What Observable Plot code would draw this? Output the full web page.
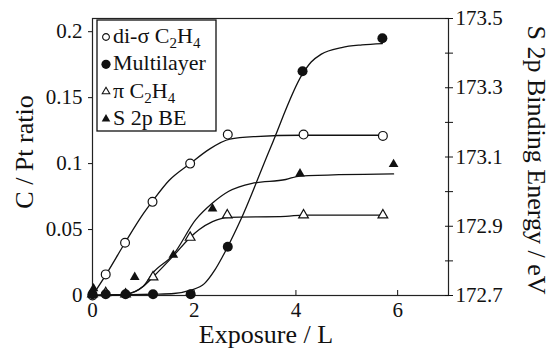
<!DOCTYPE html>
<html><head><meta charset="utf-8">
<script src="https://cdn.jsdelivr.net/npm/d3@7"></script>
<script src="https://cdn.jsdelivr.net/npm/@observablehq/plot@0.6"></script>
<style>
body{margin:0;background:#fff;}
#chart{width:550px;height:349px;}
</style></head><body><div id="chart"></div>
<script>
// ---- data ----
// di-sigma C2H4 (open circles), left axis
const diSigmaX = [0, 0.26, 0.64, 1.18, 1.92, 2.66, 4.15, 5.71];
const diSigmaY = [0, 0.016, 0.040, 0.071, 0.100, 0.122, 0.122, 0.121];
// Multilayer (filled circles), left axis
const multiX = [0, 0.26, 0.65, 1.19, 1.93, 2.66, 4.13, 5.70];
const multiY = [0.001, 0.001, 0.001, 0.001, 0.001, 0.037, 0.170, 0.195];
// pi C2H4 (open triangles), left axis
const piX = [0, 0.26, 0.65, 1.19, 1.92, 2.65, 4.15, 5.71];
const piY = [0.001, 0.002, 0.001, 0.014, 0.044, 0.061, 0.061, 0.061];
// S 2p binding energy (filled triangles), right axis, eV
const beX = [0.02, 0.83, 1.59, 2.36, 4.08, 5.92];
const beV = [172.72, 172.753, 172.817, 172.951, 173.052, 173.079];

// fitted curves
const diSigmaFitX = [0, 0.26, 0.64, 1.0, 1.18, 1.5, 1.92, 2.3, 2.7, 3.2, 4.1, 5.7];
const diSigmaFitY = [0, 0.0155, 0.040, 0.062, 0.0715, 0.087, 0.100, 0.111, 0.1185, 0.1205, 0.1215, 0.1215];
const multiFitX = [0, 0.65, 1.2, 1.6, 1.93, 2.2, 2.4, 2.55, 2.66, 2.91, 3.5, 4.13, 4.3, 4.5, 4.9, 5.3, 5.7];
const multiFitY = [0, 0.0005, 0.001, 0.0015, 0.004, 0.009, 0.019, 0.029, 0.037, 0.057, 0.112, 0.168, 0.177, 0.183, 0.188, 0.190, 0.191];
const piFitX = [0, 0.65, 1.0, 1.19, 1.59, 1.92, 2.1, 2.36, 2.68, 3.8, 4.15, 5.71];
const piFitY = [0, 0.001, 0.007, 0.014, 0.030, 0.044, 0.050, 0.056, 0.0593, 0.0600, 0.061, 0.061];
const beFitX = [0, 0.65, 1.0, 1.18, 1.59, 2.03, 2.36, 2.68, 3.14, 3.8, 4.08, 5.92];
const beFitV = [172.700, 172.704, 172.727, 172.764, 172.818, 172.919, 172.967, 173.001, 173.024, 173.035, 173.045, 173.051];

// axes
const xTicks = [0, 2, 4, 6];
const yTicks = [0, 0.05, 0.1, 0.15, 0.2];
const beMajor = [172.7, 172.9, 173.1, 173.3, 173.5];
const beMinor = [172.8, 173.0, 173.2, 173.4];
const legendLabels = ["di-σ C₂H₄", "Multilayer", "π C₂H₄", "S 2p BE"];

// ---- mapping of the right axis onto the left one ----
const BE_MIN = 172.7, BE_MAX = 173.5, Y_MAX = 0.21;
const be2y = v => (v - BE_MIN) / (BE_MAX - BE_MIN) * Y_MAX;
const y2be = y => BE_MIN + y / Y_MAX * (BE_MAX - BE_MIN);

const pts = (xs, ys) => xs.map((x, i) => ({x, y: ys[i]}));
const diSigma = pts(diSigmaX, diSigmaY);
const multi = pts(multiX, multiY);
const pi = pts(piX, piY);
const be = pts(beX, beV.map(be2y));
const diSigmaFit = pts(diSigmaFitX, diSigmaFitY);
const multiFit = pts(multiFitX, multiFitY);
const piFit = pts(piFitX, piFitY);
const beFit = pts(beFitX, beFitV.map(be2y));

const INK = "#111";
const FONT = "Liberation Serif, DejaVu Serif, Times New Roman, Times, serif";
const lineOpts = {x: "x", y: "y", curve: "monotone-x", stroke: INK, strokeWidth: 1.3};

const chart = Plot.plot({
  width: 550, height: 349,
  marginLeft: 92, marginRight: 102, marginTop: 18, marginBottom: 54,
  x: {domain: [0, 7]},
  y: {domain: [0, Y_MAX]},
  style: {fontFamily: FONT, fontSize: "21px", color: INK, background: "white"},
  marks: [
    Plot.frame({stroke: "#222", strokeWidth: 1.2}),
    Plot.axisY({anchor: "left", ticks: yTicks, tickSize: 4, tickPadding: 6, label: null, tickFormat: d => String(d)}),
    Plot.axisY({anchor: "right", ticks: beMajor.map(be2y), tickSize: 0, tickPadding: 7, label: null, tickFormat: d => y2be(d).toFixed(1)}),
    Plot.axisY({anchor: "right", ticks: beMajor.concat(beMinor).map(be2y), tickSize: 8, dx: -4, fill: "none", label: null}),
    Plot.axisX({ticks: xTicks, tickSize: 0, tickPadding: 7, label: null, tickFormat: d => String(d)}),
    Plot.axisX({ticks: xTicks, tickSize: 5, dy: -5, fill: "none", label: null}),
    Plot.line(diSigmaFit, lineOpts),
    Plot.line(multiFit, lineOpts),
    Plot.line(piFit, lineOpts),
    Plot.line(beFit, lineOpts),
    Plot.dot(diSigma, {x: "x", y: "y", r: 4.4, stroke: INK, fill: "white", strokeWidth: 1.2}),
    Plot.dot(pi, {x: "x", y: "y", r: 3.6, symbol: "triangle", stroke: INK, fill: "white", strokeWidth: 1.2}),
    Plot.dot(multi, {x: "x", y: "y", r: 5, fill: INK, stroke: "none"}),
    Plot.dot(be, {x: "x", y: "y", r: 3.6, symbol: "triangle", fill: INK, stroke: "none"})
  ]
});
document.getElementById("chart").appendChild(chart);

// ---- titles and legend ----
const svg = d3.select(chart);
svg.attr("font-family", FONT);
svg.selectAll("text").attr("font-family", FONT);

svg.append("text").attr("transform", "translate(33,152) rotate(-90)")
  .attr("text-anchor", "middle").attr("font-size", 26).attr("font-family", FONT).attr("fill", INK).text("C / Pt ratio");
svg.append("text").attr("transform", "translate(528,160) rotate(90)")
  .attr("text-anchor", "middle").attr("font-size", 26).attr("font-family", FONT).attr("fill", INK).text("S 2p Binding Energy / eV");
svg.append("text").attr("x", 266).attr("y", 343)
  .attr("text-anchor", "middle").attr("font-size", 26).attr("font-family", FONT).attr("fill", INK).text("Exposure / L");

const lg = svg.append("g");
lg.append("rect").attr("x", 97).attr("y", 20).attr("width", 119).attr("height", 111)
  .attr("fill", "white").attr("stroke", INK).attr("stroke-width", 1.3);
const legendSymbols = [
  {type: d3.symbolCircle, r: 3.4, fill: "white"},
  {type: d3.symbolCircle, r: 4.6, fill: INK},
  {type: d3.symbolTriangle, r: 2.8, fill: "white"},
  {type: d3.symbolTriangle, r: 3.2, fill: INK}
];
legendLabels.forEach((lab, i) => {
  const base = 43 + i * 27.3;
  const s = legendSymbols[i];
  lg.append("path").attr("transform", `translate(106,${base - 6})`)
    .attr("d", d3.symbol(s.type, Math.PI * s.r * s.r)())
    .attr("fill", s.fill).attr("stroke", s.fill === "white" ? INK : "none").attr("stroke-width", 1.1);
  const t = lg.append("text").attr("x", 113).attr("y", base).attr("font-size", 22)
    .attr("font-family", FONT).attr("text-anchor", "start").attr("fill", INK);
  const m = lab.match(/^(.*C)₂H₄$/);
  if (m) {
    t.append("tspan").text(m[1]);
    t.append("tspan").attr("font-size", 15).attr("dy", 5).text("2");
    t.append("tspan").attr("dy", -5).text("H");
    t.append("tspan").attr("font-size", 15).attr("dy", 5).text("4");
  } else {
    t.text(lab);
  }
});
</script>
</body></html>
